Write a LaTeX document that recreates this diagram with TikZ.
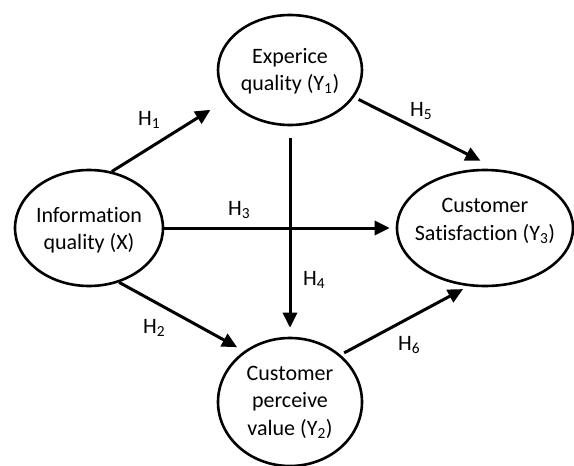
\documentclass[tikz,border=0pt]{standalone}
\usepackage{fontspec}
\setmainfont[Ligatures={NoCommon}]{Carlito}
\usetikzlibrary{shapes.geometric,arrows.meta}
\begin{document}
\begin{tikzpicture}[x=1pt,y=-1pt,
  ell/.style={ellipse,draw,line width=2.6pt,inner sep=0pt},
  txt/.style={align=center,inner sep=0pt,font=\fontsize{22}{27.5}\selectfont},
  arr/.style={line width=3pt,-{Triangle[length=15pt,width=14pt]}},
  lab/.style={font=\fontsize{22}{25}\selectfont,inner sep=0pt,anchor=base west}]
\useasboundingbox (0,0) rectangle (574,466);
\node[ell,minimum width=148pt,minimum height=116pt] (X) at (89,228) {};
\node[ell,minimum width=144pt,minimum height=110pt] (Y1) at (290,70) {};
\node[ell,minimum width=144pt,minimum height=128pt] (Y2) at (290,402) {};
\node[ell,minimum width=176pt,minimum height=116pt] (Y3) at (485,228) {};
\node[txt] (Xt) at (89,230) {Information\\quality (X)};
\node[txt] (Y1t) at (290,71) {Experice\\quality (Y\textsubscript{1})};
\node[txt] (Y2t) at (290,402) {Customer\\perceive\\value (Y\textsubscript{2})};
\node[txt] (Y3t) at (485,221) {Customer\\Satisfaction (Y\textsubscript{3})};
\draw[arr] (X.68) -- (Y1.205) [shorten >=20pt];
\draw[arr] (X.east) -- (Y3.west) [shorten >=6pt];
\draw[arr] (Y1.-23) -- (Y3.78) [shorten <=5pt, shorten >=19pt];
\draw[arr] (Y1.south) -- (Y2.north) [shorten <=12pt, shorten >=9pt];
\draw[arr] (X.-61) -- (Y2.132) [shorten >=8pt];
\draw[arr] (Y2.43) -- (Y3.-106) [shorten <=4pt, shorten >=6pt];
\node[lab] (h1) at (138,125) {H\textsubscript{1}};
\node[lab] (h3) at (228,215) {H\textsubscript{3}};
\node[lab] (h5) at (410,116) {H\textsubscript{5}};
\node[lab] (h4) at (303,285) {H\textsubscript{4}};
\node[lab] (h2) at (143,333) {H\textsubscript{2}};
\node[lab] (h6) at (398,350) {H\textsubscript{6}};
\end{tikzpicture}
\end{document}
